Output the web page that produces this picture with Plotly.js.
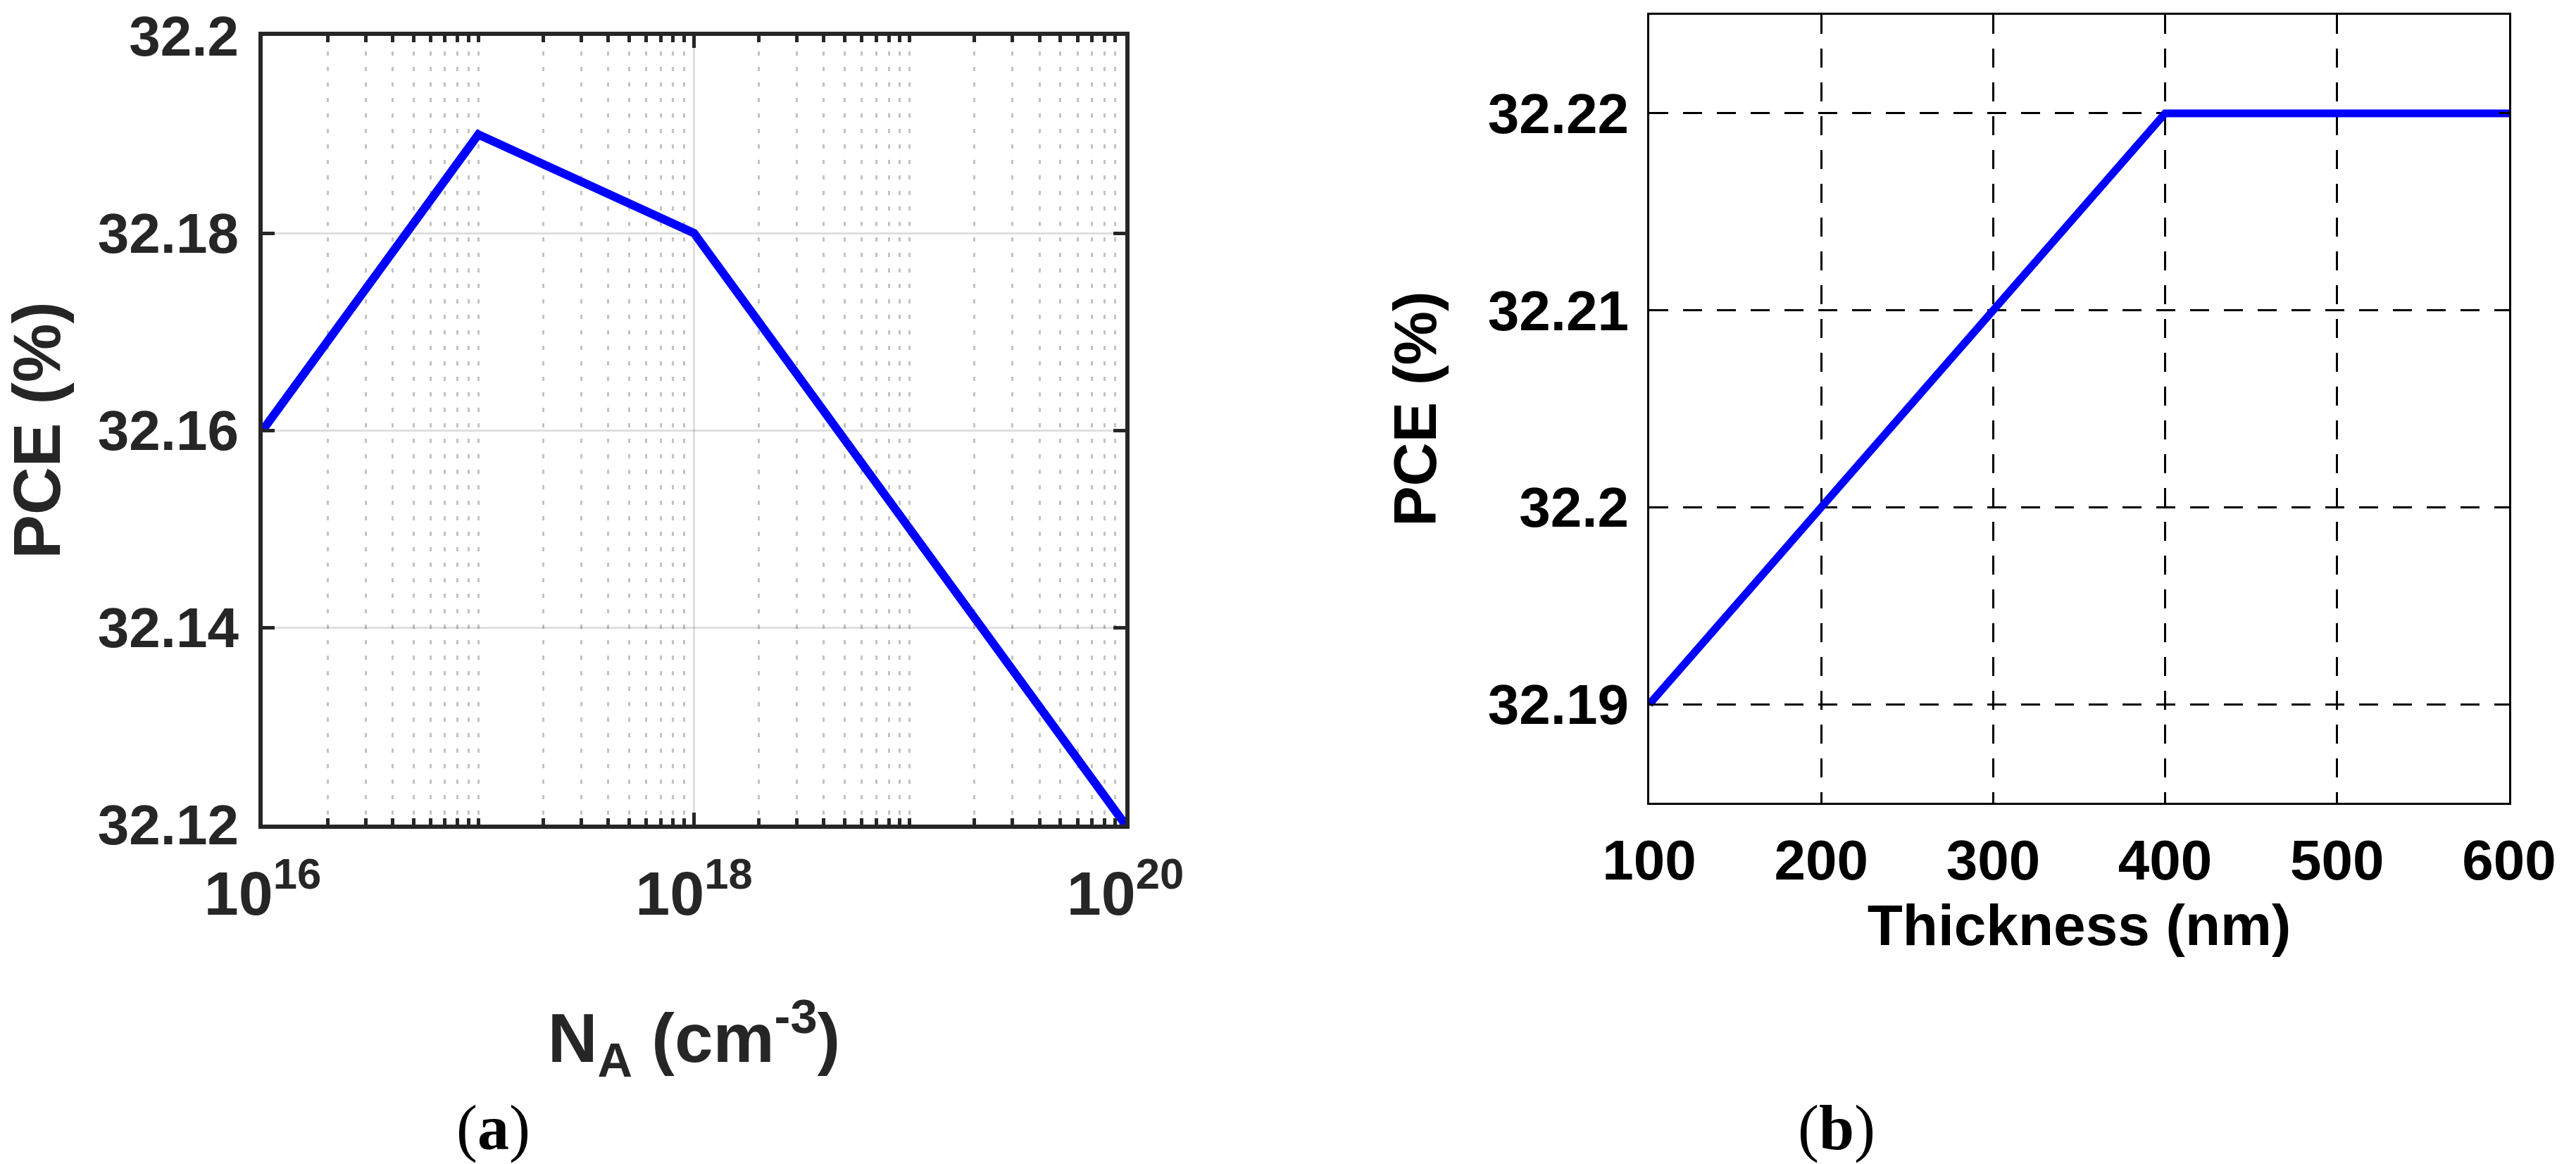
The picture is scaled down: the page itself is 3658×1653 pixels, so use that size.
<!DOCTYPE html>
<html>
<head>
<meta charset="utf-8">
<script src="https://cdn.plot.ly/plotly-3.0.1.min.js"></script>
<style>
  html, body { margin: 0; padding: 0; background: #fff; }
  #chart { width: 3658px; height: 1653px; }
</style>
</head>
<body>
<div id="chart"></div>
<script>
// (a) PCE against acceptor density
const dopingNA = [1e16, 1e17, 1e18, 1e19, 1e20];
const pceDoping = [32.16, 32.19, 32.18, 32.15, 32.12];
const dopingTickVals = [1e16, 1e18, 1e20];
const dopingTickText = ['10<sup>16</sup>', '10<sup>18</sup>', '10<sup>20</sup>'];
const pceDopingTicks = [32.12, 32.14, 32.16, 32.18, 32.2];
const pceDopingTickText = ['32.12', '32.14', '32.16', '32.18', '32.2'];

// (b) PCE against layer thickness
const thickness = [100, 200, 300, 400, 500, 600];
const pceThickness = [32.19, 32.2, 32.21, 32.22, 32.22, 32.22];
const thicknessTicks = [100, 200, 300, 400, 500, 600];
const pceThicknessTicks = [32.19, 32.2, 32.21, 32.22];
const pceThicknessTickText = ['32.19', '32.2', '32.21', '32.22'];

const initPlot = () => {

  // minor log ticks: 1..9 x 10^n, the labelled decades are left to the major ticks
  const minorVals = [];
  for (let e = 16; e < 20; e++) {
    for (let m = 1; m <= 9; m++) {
      const v = m * Math.pow(10, e);
      if (!dopingTickVals.includes(v)) minorVals.push(v);
    }
  }

  const sans = 'Arial, "Liberation Sans", sans-serif';
  const serif = '"Liberation Serif", "Times New Roman", serif';
  const darkAxis = '#262626';

  const traceDoping = {
    x: dopingNA,
    y: pceDoping,
    xaxis: 'x',
    yaxis: 'y',
    mode: 'lines',
    line: { color: '#0000ff', width: 12 },
    hoverinfo: 'skip'
  };

  const traceThickness = {
    x: thickness,
    y: pceThickness,
    xaxis: 'x2',
    yaxis: 'y2',
    mode: 'lines',
    line: { color: '#0000ff', width: 11 },
    hoverinfo: 'skip'
  };

  const data = [traceDoping, traceThickness];

  var layout = {
    width: 3658,
    height: 1653,
    margin: { l: 0, r: 0, t: 0, b: 0 },
    showlegend: false,
    plot_bgcolor: '#ffffff',
    paper_bgcolor: '#ffffff',
    xaxis: {
      domain: [373 / 3658, 1598 / 3658],
      type: 'log',
      range: [16, 20],
      tickmode: 'array',
      tickvals: dopingTickVals,
      ticktext: dopingTickText,
      ticks: 'inside',
      ticklen: 17,
      tickwidth: 5,
      tickcolor: darkAxis,
      showline: true,
      linewidth: 6,
      linecolor: darkAxis,
      mirror: 'ticks',
      showgrid: true,
      gridcolor: 'rgba(38,38,38,0.15)',
      gridwidth: 3,
      zeroline: false,
      ticklabelstandoff: 16,
      tickfont: { family: sans, size: 88, color: darkAxis, weight: 'bold' },
      minor: {
        tickmode: 'array',
        tickvals: minorVals,
        ticks: 'inside',
        ticklen: 9,
        tickwidth: 5,
        tickcolor: darkAxis,
        showgrid: true,
        gridcolor: 'rgba(38,38,38,0.28)',
        gridwidth: 3,
        griddash: '6px,16px'
      },
      title: {
        text: 'N<sub>A</sub> (cm<sup>-3</sup>)',
        font: { family: sans, size: 98, color: darkAxis, weight: 'bold' },
        standoff: 125
      }
    },
    yaxis: {
      domain: [1 - 1171 / 1653, 1 - 51 / 1653],
      range: [32.12, 32.2],
      tickmode: 'array',
      tickvals: pceDopingTicks,
      ticktext: pceDopingTickText,
      ticks: 'inside',
      ticklen: 17,
      tickwidth: 5,
      tickcolor: darkAxis,
      showline: true,
      linewidth: 6,
      linecolor: darkAxis,
      mirror: 'ticks',
      showgrid: true,
      gridcolor: 'rgba(38,38,38,0.15)',
      gridwidth: 3,
      zeroline: false,
      ticklabelstandoff: 12,
      tickfont: { family: sans, size: 80, color: darkAxis, weight: 'bold' },
      title: {
        text: 'PCE (%)',
        font: { family: sans, size: 94, color: darkAxis, weight: 'bold' },
        standoff: 30
      }
    },
    xaxis2: {
      domain: [2342 / 3658, 3563 / 3658],
      anchor: 'y2',
      range: [100, 600],
      tickmode: 'array',
      tickvals: thicknessTicks,
      ticks: 'inside',
      ticklen: 14,
      tickwidth: 3,
      tickcolor: '#000000',
      showline: true,
      linewidth: 3,
      linecolor: '#000000',
      mirror: 'ticks',
      showgrid: true,
      gridcolor: '#000000',
      gridwidth: 3,
      griddash: '27px,21px',
      zeroline: false,
      ticklabelstandoff: 10,
      tickfont: { family: sans, size: 80, color: '#000000', weight: 'bold' },
      title: {
        text: 'Thickness (nm)',
        font: { family: sans, size: 82, color: '#000000', weight: 'bold' },
        standoff: 20
      }
    },
    yaxis2: {
      domain: [1 - 1140 / 1653, 1 - 21 / 1653],
      anchor: 'x2',
      range: [32.185, 32.225],
      tickmode: 'array',
      tickvals: pceThicknessTicks,
      ticktext: pceThicknessTickText,
      ticks: 'inside',
      ticklen: 14,
      tickwidth: 3,
      tickcolor: '#000000',
      showline: true,
      linewidth: 3,
      linecolor: '#000000',
      mirror: 'ticks',
      showgrid: true,
      gridcolor: '#000000',
      gridwidth: 3,
      griddash: '27px,21px',
      zeroline: false,
      ticklabelstandoff: 10,
      tickfont: { family: sans, size: 80, color: '#000000', weight: 'bold' },
      title: {
        text: 'PCE (%)',
        font: { family: sans, size: 86, color: '#000000', weight: 'bold' },
        standoff: 45
      }
    },
    annotations: [
      {
        text: '(<b>a</b>)',
        xref: 'paper', yref: 'paper',
        x: 700 / 3658, y: 1 - 1602 / 1653,
        xanchor: 'center', yanchor: 'middle',
        showarrow: false,
        font: { family: serif, size: 90, color: '#000000' }
      },
      {
        text: '(<b>b</b>)',
        xref: 'paper', yref: 'paper',
        x: 2608 / 3658, y: 1 - 1602 / 1653,
        xanchor: 'center', yanchor: 'middle',
        showarrow: false,
        font: { family: serif, size: 90, color: '#000000' }
      }
    ]
  };

  var config = { responsive: false, displayModeBar: false, staticPlot: true };

  Plotly.newPlot('chart', data, layout, config);
};

initPlot();
</script>
</body>
</html>
